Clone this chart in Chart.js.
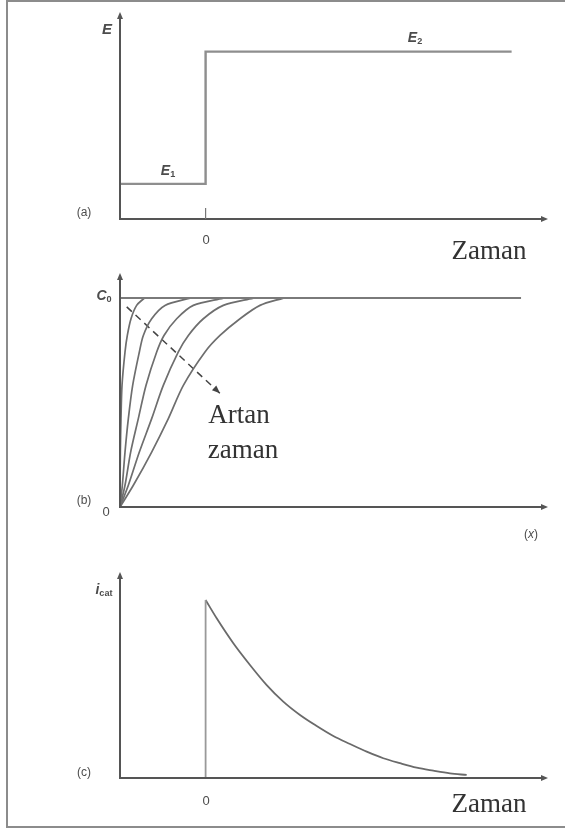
<!DOCTYPE html>
<html><head><meta charset="utf-8">
<script src="https://cdn.jsdelivr.net/npm/chart.js@4/dist/chart.umd.min.js"></script>
<style>
html,body{margin:0;padding:0;background:#fff;}
#page{position:relative;width:565px;height:832px;overflow:hidden;background:#fff;}
#frame{position:absolute;left:6px;top:0;width:620px;height:824px;border:2px solid #8c8c8c;border-right:none;}
canvas{position:absolute;left:0;}
.lbl{position:absolute;font-family:"Liberation Sans",Arial,sans-serif;color:#4c4c4c;white-space:nowrap;line-height:1;transform:translate(-50%,-50%);}
.it{font-style:italic;font-weight:bold;}
.ser{font-family:"Liberation Serif","Times New Roman",serif;color:#333;font-size:27px;}
sub{font-size:65%;vertical-align:-0.25em;font-style:normal;}
</style></head>
<body><div id="page"><div id="frame"></div>
<canvas id="ca" width="565" height="260" style="top:0"></canvas>
<canvas id="cb" width="565" height="290" style="top:260px"></canvas>
<canvas id="cc" width="565" height="282" style="top:550px"></canvas>
</div>
<script>
// ---- Panel (a): potential step ----
const stepTime = [-20, 0, 0, 71.5];
const stepPotential = [1, 1, 4.77, 4.77];

// ---- Panel (b): concentration profiles, shared y levels (fraction of C0) ----
const profileLevels = [0, 0.104, 0.263, 0.423, 0.582, 0.742, 0.821, 0.901, 0.965, 1.0];
const profileX1 = [0, 0.02, 0.08, 0.23, 0.47, 1.17, 1.71, 2.57, 3.89, 5.69];
const profileX2 = [0, 0.55, 1.17, 1.95, 2.96, 4.52, 5.45, 7.40, 10.51, 16.36];
const profileX3 = [0, 1.17, 2.49, 4.28, 6.07, 8.57, 10.28, 13.24, 17.13, 24.14];
const profileX4 = [0, 1.95, 4.52, 7.40, 10.12, 13.63, 15.97, 19.47, 24.14, 31.15];
const profileX5 = [0, 3.12, 7.40, 11.29, 14.80, 19.86, 23.36, 28.04, 32.71, 38.16];
const bulkX = [0, 93.7];
const bulkC = [1, 1];
const arrowX = [1.57, 23.36];
const arrowC = [0.958, 0.544];

// ---- Panel (c): cathodic current transient ----
const currentTime = [0, 2.59, 6.48, 10.37, 14.28, 18.15, 22.06, 25.96, 29.84, 33.74, 37.64, 41.52, 45.42, 49.32, 53.2, 57.1, 61.0];
const currentValue = [1.0, 0.897, 0.757, 0.635, 0.522, 0.429, 0.354, 0.292, 0.236, 0.191, 0.148, 0.111, 0.083, 0.058, 0.041, 0.026, 0.017];
const jumpTime = [0, 0];
const jumpValue = [0, 1.0];

const pts = (xs, ys) => xs.map((x, i) => ({x, y: ys[i]}));
const AXIS = '#555';

const axesPlugin = {
  id: 'axesArrows',
  afterDatasetsDraw(chart, args, opts) {
    const {ctx, chartArea: a, scales} = chart;
    const y0 = scales.y.getPixelForValue(0);
    ctx.save();
    ctx.strokeStyle = AXIS; ctx.fillStyle = AXIS; ctx.lineWidth = 2;
    ctx.beginPath();
    ctx.moveTo(a.left, y0); ctx.lineTo(a.right - 4, y0);
    ctx.moveTo(a.left, y0 + 1); ctx.lineTo(a.left, a.top + 4);
    ctx.stroke();
    ctx.beginPath();
    ctx.moveTo(a.right, y0); ctx.lineTo(a.right - 7, y0 - 3); ctx.lineTo(a.right - 7, y0 + 3); ctx.closePath(); ctx.fill();
    ctx.beginPath();
    ctx.moveTo(a.left, a.top); ctx.lineTo(a.left - 3, a.top + 7); ctx.lineTo(a.left + 3, a.top + 7); ctx.closePath(); ctx.fill();
    if (opts.zeroTick) {
      const xz = scales.x.getPixelForValue(0);
      ctx.lineWidth = 1.2; ctx.strokeStyle = '#777';
      ctx.beginPath(); ctx.moveTo(xz, y0 - 11); ctx.lineTo(xz, y0); ctx.stroke();
    }
    if (opts.arrowDataset !== undefined) {
      const m = chart.getDatasetMeta(opts.arrowDataset).data;
      const p1 = m[m.length - 2], p2 = m[m.length - 1];
      const ang = Math.atan2(p2.y - p1.y, p2.x - p1.x);
      ctx.fillStyle = '#444';
      ctx.translate(p2.x, p2.y); ctx.rotate(ang);
      ctx.beginPath(); ctx.moveTo(0, 0); ctx.lineTo(-8, -3.2); ctx.lineTo(-8, 3.2); ctx.closePath(); ctx.fill();
    }
    ctx.restore();
  }
};

function makeChart(id, canvasTop, canvasH, area, xr, yr, datasets, pluginOpts) {
  return new Chart(document.getElementById(id), {
    type: 'line',
    data: {datasets},
    options: {
      responsive: false, animation: false, devicePixelRatio: 1,
      layout: {padding: {left: area.left, right: 565 - area.right, top: area.top - canvasTop, bottom: canvasTop + canvasH - area.bottom}},
      plugins: {legend: {display: false}, tooltip: {enabled: false}, axesArrows: pluginOpts},
      scales: {
        x: {type: 'linear', display: false, min: xr[0], max: xr[1]},
        y: {type: 'linear', display: false, min: yr[0], max: yr[1]}
      },
      elements: {point: {radius: 0}}
    },
    plugins: [axesPlugin]
  });
}

const base = {fill: false, pointRadius: 0, clip: false};

makeChart('ca', 0, 260, {left: 120, right: 548, top: 12, bottom: 219}, [-20, 80], [0, 5.9], [
  {...base, data: pts(stepTime, stepPotential), borderColor: '#8e8e8e', borderWidth: 2.4, tension: 0}
], {zeroTick: true});

const curveStyle = {...base, borderColor: '#6e6e6e', borderWidth: 1.7, tension: 0.3};
makeChart('cb', 260, 290, {left: 120, right: 548, top: 273, bottom: 507}, [0, 100], [0, 1.12], [
  {...base, data: pts(bulkX, bulkC), borderColor: '#7a7a7a', borderWidth: 2, tension: 0},
  {...curveStyle, data: pts(profileX1, profileLevels)},
  {...curveStyle, data: pts(profileX2, profileLevels)},
  {...curveStyle, data: pts(profileX3, profileLevels)},
  {...curveStyle, data: pts(profileX4, profileLevels)},
  {...curveStyle, data: pts(profileX5, profileLevels)},
  {...base, data: pts(arrowX, arrowC), borderColor: '#444', borderWidth: 1.5, borderDash: [7, 5], tension: 0}
], {arrowDataset: 6});

makeChart('cc', 550, 282, {left: 120, right: 548, top: 572, bottom: 778}, [-20, 80], [0, 1.157], [
  {...base, data: pts(jumpTime, jumpValue), borderColor: '#999', borderWidth: 1.8, tension: 0},
  {...base, data: pts(currentTime, currentValue), borderColor: '#6a6a6a', borderWidth: 1.8, cubicInterpolationMode: 'monotone'}
], {});

// ---- text labels ----
const page = document.getElementById('page');
function lbl(html, x, y, cls, size) {
  const d = document.createElement('div');
  d.className = 'lbl ' + (cls || '');
  d.innerHTML = html;
  d.style.left = x + 'px'; d.style.top = y + 'px';
  if (size) d.style.fontSize = size + 'px';
  page.appendChild(d);
}
lbl('E', 107, 28, 'it', 15);
lbl('E<sub>2</sub>', 415, 38, 'it', 14);
lbl('E<sub>1</sub>', 168, 171, 'it', 14);
lbl('(a)', 84, 212, '', 12);
lbl('0', 206, 239, '', 13);
lbl('Zaman', 489, 250, 'ser');

lbl('C<sub>0</sub>', 104, 296, 'it', 14);
lbl('(b)', 84, 500, '', 12);
lbl('0', 106, 511, '', 13);
lbl('(<i>x</i>)', 531, 534, '', 12);
lbl('Artan', 239, 414, 'ser');
lbl('zaman', 243, 449, 'ser');

lbl('<i>i</i><sub>cat</sub>', 104, 590, 'it', 14);
lbl('(c)', 84, 772, '', 12);
lbl('0', 206, 800, '', 13);
lbl('Zaman', 489, 803, 'ser');
</script>
</body></html>
